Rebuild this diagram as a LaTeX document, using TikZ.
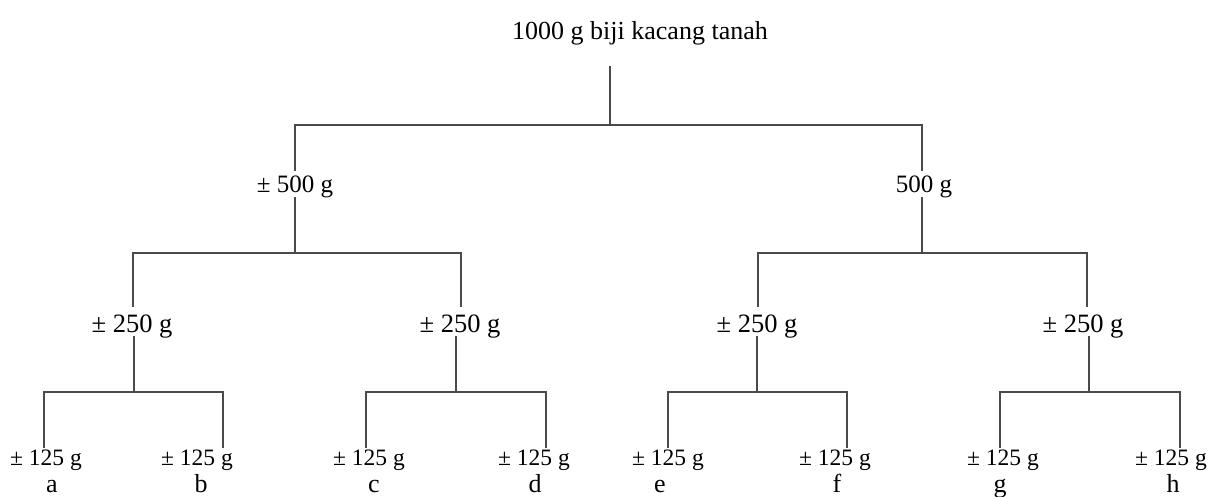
\documentclass[tikz,border=0pt]{standalone}
\usepackage{fontspec}
\setmainfont{Liberation Serif}
\definecolor{linegray}{HTML}{4A4A4A}
\tikzset{
  branch/.style={draw=linegray, line width=2.3pt, line cap=rect},
  lbl/.style={anchor=base, inner sep=0pt, font=\fontsize{25}{30}\selectfont},
  midlbl/.style={anchor=base, inner sep=0pt, font=\fontsize{26.5}{31}\selectfont},
  leaflbl/.style={anchor=base, inner sep=0pt, font=\fontsize{23.5}{28}\selectfont},
  letter/.style={anchor=base, inner sep=0pt, font=\fontsize{26}{31}\selectfont},
  titlelbl/.style={anchor=base, inner sep=0pt, font=\fontsize{26}{31}\selectfont}
}
\begin{document}
\begin{tikzpicture}[x=1pt, y=-1pt]
\useasboundingbox (0,0) rectangle (1209,496);
% title
\node[titlelbl] (root) at (640,39) {1000 g biji kacang tanah};
% level 1 labels
\node[lbl] (m1) at (295,192) {± 500 g};
\node[lbl] (m2) at (924,192) {500 g};
% level 2 labels
\node[midlbl] (q1) at (132,332) {± 250 g};
\node[midlbl] (q2) at (460,332) {± 250 g};
\node[midlbl] (q3) at (757,332) {± 250 g};
\node[midlbl] (q4) at (1083,332) {± 250 g};
% leaves
\node[leaflbl] (la) at (46,465) {± 125 g};
\node[leaflbl] (lb) at (197,465) {± 125 g};
\node[leaflbl] (lc) at (369,465) {± 125 g};
\node[leaflbl] (ld) at (534,465) {± 125 g};
\node[leaflbl] (le) at (668,465) {± 125 g};
\node[leaflbl] (lf) at (835,465) {± 125 g};
\node[leaflbl] (lg) at (1003,465) {± 125 g};
\node[leaflbl] (lh) at (1171,465) {± 125 g};
\node[letter] (ta) at (52,492) {a};
\node[letter] (tb) at (201,492) {b};
\node[letter] (tc) at (374,492) {c};
\node[letter] (td) at (535,492) {d};
\node[letter] (te) at (660,492) {e};
\node[letter] (tf) at (837,492) {f};
\node[letter] (tg) at (1000,492) {g};
\node[letter] (th) at (1173,492) {h};
% coordinates
\coordinate (r0) at (610,67);
\coordinate (r1) at (610,125);
\coordinate (h1l) at (295,125);
\coordinate (h1r) at (922,125);
\coordinate (m1t) at (295,170);
\coordinate (m1b) at (295,198);
\coordinate (m2t) at (922,170);
\coordinate (m2b) at (922,198);
\coordinate (h2a) at (133,253);
\coordinate (h2b) at (461,253);
\coordinate (h2m) at (295,253);
\coordinate (h2c) at (758,253);
\coordinate (h2d) at (1087,253);
\coordinate (h2n) at (922,253);
\coordinate (q1t) at (133,306);
\coordinate (q2t) at (461,306);
\coordinate (q3t) at (758,306);
\coordinate (q4t) at (1087,306);
\coordinate (q1b) at (134,337);
\coordinate (q2b) at (456,337);
\coordinate (q3b) at (757,337);
\coordinate (q4b) at (1089,337);
\coordinate (j1) at (134,392);
\coordinate (j2) at (456,392);
\coordinate (j3) at (757,392);
\coordinate (j4) at (1089,392);
\coordinate (pa) at (44,392);  \coordinate (pb) at (223,392);
\coordinate (pc) at (366,392); \coordinate (pd) at (546,392);
\coordinate (pe) at (668,392); \coordinate (pf) at (847,392);
\coordinate (pg) at (1000,392);\coordinate (ph) at (1180,392);
\coordinate (ea) at (44,447);  \coordinate (eb) at (223,447);
\coordinate (ec) at (366,447); \coordinate (ed) at (546,447);
\coordinate (ee) at (668,447); \coordinate (ef) at (847,447);
\coordinate (eg) at (1000,447);\coordinate (eh) at (1180,447);
% connectors
\draw[branch] (r0) -- (r1);
\draw[branch] (h1l) -- (h1r);
\draw[branch] (h1l) -- (m1t);
\draw[branch] (m1b) -- (h2m);
\draw[branch] (h1r) -- (m2t);
\draw[branch] (m2b) -- (h2n);
\draw[branch] (h2a) -- (h2b);
\draw[branch] (h2c) -- (h2d);
\draw[branch] (h2a) -- (q1t);
\draw[branch] (h2b) -- (q2t);
\draw[branch] (h2c) -- (q3t);
\draw[branch] (h2d) -- (q4t);
\draw[branch] (q1b) -- (j1);
\draw[branch] (q2b) -- (j2);
\draw[branch] (q3b) -- (j3);
\draw[branch] (q4b) -- (j4);
\draw[branch] (pa) -- (pb);
\draw[branch] (pc) -- (pd);
\draw[branch] (pe) -- (pf);
\draw[branch] (pg) -- (ph);
\draw[branch] (pa) -- (ea);
\draw[branch] (pb) -- (eb);
\draw[branch] (pc) -- (ec);
\draw[branch] (pd) -- (ed);
\draw[branch] (pe) -- (ee);
\draw[branch] (pf) -- (ef);
\draw[branch] (pg) -- (eg);
\draw[branch] (ph) -- (eh);
\end{tikzpicture}
\end{document}
